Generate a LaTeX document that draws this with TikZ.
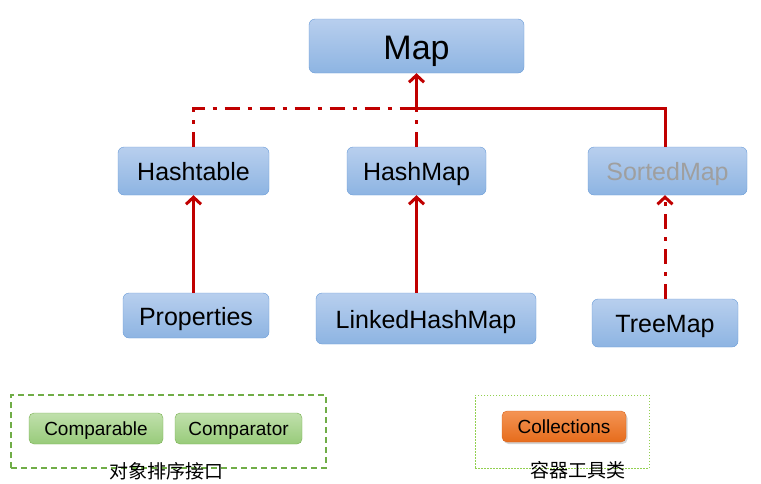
\documentclass[tikz,border=0pt]{standalone}
\usepackage{fontspec}
\setmainfont{Liberation Sans}
\newfontfamily\cjk{Noto Sans CJK SC}
\usepackage{xcolor}
\usepackage{tikz}
\usetikzlibrary{arrows.meta, positioning, calc, shadows}
\definecolor{linkred}{RGB}{192, 0, 0}
\definecolor{clstop}{RGB}{184, 207, 238}
\definecolor{clsbottom}{RGB}{141, 180, 226}
\definecolor{clsborder}{RGB}{105, 155, 215}
\definecolor{cmptop}{RGB}{192, 224, 172}
\definecolor{cmpbottom}{RGB}{152, 203, 122}
\definecolor{cmpborder}{RGB}{120, 175, 80}
\definecolor{tooltop}{RGB}{244, 148, 84}
\definecolor{toolbottom}{RGB}{230, 108, 28}
\definecolor{toolborder}{RGB}{215, 100, 30}
\definecolor{groupgreen}{RGB}{112, 173, 71}
\definecolor{grouplight}{RGB}{146, 208, 80}

\begin{document}
\begin{tikzpicture}[
    x=1pt, y=-1pt,
    cls/.style={draw=clsborder, rounded corners=6pt, top color=clstop, bottom color=clsbottom, inner sep=0pt, text height=19pt, text depth=0pt, font=\fontsize{25}{30}\selectfont},
    cmp/.style={draw=cmpborder, rounded corners=5pt, top color=cmptop, bottom color=cmpbottom, inner sep=0pt, minimum height=31pt, text height=14.5pt, text depth=0pt, font=\fontsize{19}{23}\selectfont},
    tool/.style={draw=toolborder, rounded corners=5pt, top color=tooltop, bottom color=toolbottom, inner sep=0pt, minimum height=31pt, text height=14.5pt, text depth=0pt, font=\fontsize{19}{23}\selectfont, drop shadow={shadow xshift=1.5pt, shadow yshift=-2pt, opacity=0.35}},
    arrow/.style={-{Straight Barb[length=7pt, width=15pt, line width=3pt]}, line width=3pt, linkred},
    extend/.style={line width=3pt, linkred},
    impl/.style={line width=3pt, linkred, dash pattern=on 15pt off 8pt on 4pt off 8pt}
]
    \useasboundingbox (0,0) rectangle (761,483);

    \node[cls, minimum width=215pt, minimum height=54pt, text height=26pt, font=\fontsize{34}{40}\selectfont] (map) at (416.5,46) {Map};
    \node[cls, minimum width=151pt, minimum height=48pt] (hashtable) at (193.5,171) {Hashtable};
    \node[cls, minimum width=139pt, minimum height=48pt] (hashmap) at (416.5,171) {HashMap};
    \node[cls, minimum width=159pt, minimum height=48pt, text=gray!75] (sortedmap) at (667.5,171) {SortedMap};
    \node[cls, minimum width=146pt, minimum height=45pt] (properties) at (196,315.5) {Properties};
    \node[cls, minimum width=220pt, minimum height=51pt] (linkedhashmap) at (426,318.5) {LinkedHashMap};
    \node[cls, minimum width=146pt, minimum height=48pt] (treemap) at (665,323) {TreeMap};

    \coordinate (join) at (416.5,108);

    \draw[arrow] (join) -- (map.south);
    \draw[impl] (hashtable.north) |- (join);
    \draw[impl] (hashmap.north) -- (join);
    \draw[extend] (sortedmap.north -| treemap.north) |- (join);
    \draw[arrow] (properties.north -| hashtable.south) -- (hashtable.south);
    \draw[arrow] (linkedhashmap.north -| hashmap.south) -- (hashmap.south);
    \draw[arrow, dash pattern=on 15pt off 8pt on 4pt off 8pt] (treemap.north) -- (treemap.north |- sortedmap.south);

    % groups
    \node[draw=groupgreen, line width=1.2pt, dash pattern=on 6pt off 4pt, minimum width=315pt, minimum height=73pt, inner sep=0pt] (sortgroup) at (168.5,431.5) {};
    \node[cmp, minimum width=134pt] (comparable) at (96,428.5) {Comparable};
    \node[cmp, minimum width=127pt] (comparator) at (238.5,428.5) {Comparator};
    \node[font=\cjk\fontsize{19}{23}\selectfont, inner sep=0pt] (sortlabel) at (166,471) {对象排序接口};

    \node[draw=grouplight, line width=1pt, dash pattern=on 1.5pt off 1.5pt, minimum width=174pt, minimum height=73pt, inner sep=0pt] (toolgroup) at (562,431.5) {};
    \node[tool, minimum width=124pt] (collections) at (564,426.5) {Collections};
    \node[font=\cjk\fontsize{19}{23}\selectfont, inner sep=0pt] (toollabel) at (578,470) {容器工具类};
\end{tikzpicture}
\end{document}
